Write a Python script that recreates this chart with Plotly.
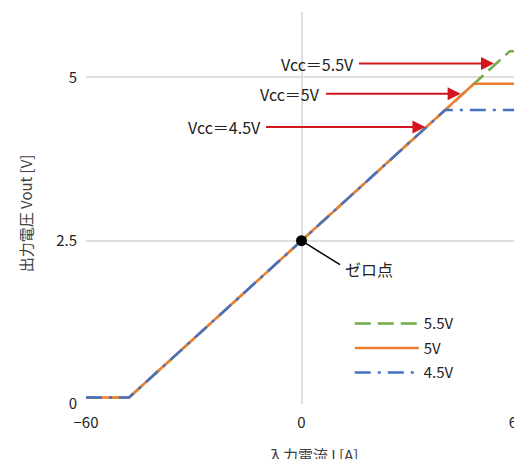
import plotly.graph_objects as go

# Data
current_55 = [-60, -48, 58, 60]
vout_55 = [0.1, 0.1, 5.4, 5.4]
current_5 = [-60, -48, 48, 60]
vout_5 = [0.1, 0.1, 4.9, 4.9]
current_45 = [-60, -48, 40, 60]
vout_45 = [0.1, 0.1, 4.5, 4.5]
series_names = ["5.5V", "5V", "4.5V"]
zero_point = (0, 2.5)
x_ticks = [-60, 0, 60]
y_ticks = [0, 2.5, 5]
y_tick_labels = ["0", "2.5", "5"]

FONT = "Noto Sans CJK JP"
TXT = "#404040"
DARK = "#222222"
RED = "#d3151d"

fig = go.Figure()
fig.add_trace(go.Scatter(x=current_55, y=vout_55, mode="lines", name=series_names[0], legendgroup="a",
                         line=dict(color="#70ad47", width=2.5, dash="16px,7px")))
fig.add_trace(go.Scatter(x=current_5, y=vout_5, mode="lines", name=series_names[1], legendgroup="b",
                         line=dict(color="#ed7d31", width=2.5)))
fig.add_trace(go.Scatter(x=current_45, y=vout_45, mode="lines", name=series_names[2], legendgroup="c",
                         line=dict(color="#4472c4", width=2.5, dash="16px,7px,3px,7px")))
fig.add_trace(go.Scatter(x=[zero_point[0]], y=[zero_point[1]], mode="markers", showlegend=False,
                         marker=dict(color="black", size=11)))

ann = []
# red arrows with labels
arrows = [
    ("Vcc＝5.5V", 15.6, 53.6, 5.21),
    ("Vcc＝5V", 6.4, 44.3, 4.75),
    ("Vcc＝4.5V", -10.3, 34.5, 4.24),
]
for label, tail, head, yv in arrows:
    ann.append(dict(x=head, y=yv, ax=tail, ay=yv, xref="x", yref="y", axref="x", ayref="y",
                    text="", showarrow=True, arrowhead=2, arrowsize=1.3, arrowwidth=2,
                    arrowcolor=RED, standoff=0))
    ann.append(dict(x=tail, y=yv, xref="x", yref="y", text=label, showarrow=False,
                    xanchor="right", yanchor="middle", xshift=-2,
                    font=dict(family=FONT, size=16, color=DARK)))
# zero point leader
ann.append(dict(x=zero_point[0], y=zero_point[1], xref="x", yref="y", text="", showarrow=True,
                ax=40, ay=25, arrowhead=0, arrowwidth=1.5, arrowcolor="black"))
ann.append(dict(x=zero_point[0], y=zero_point[1], xref="x", yref="y", text="ゼロ点", showarrow=False,
                xanchor="left", yanchor="middle", xshift=41, yshift=-28,
                font=dict(family=FONT, size=16, color=DARK)))
# axis titles
ann.append(dict(x=-0.141, y=0.487, xref="paper", yref="paper", text="出力電圧 Vout [V]",
                textangle=-90, showarrow=False, xanchor="center", yanchor="middle",
                font=dict(family=FONT, size=15, color=TXT)))
ann.append(dict(x=0.526, y=-0.128, xref="paper", yref="paper", text="入力電流 I [A]",
                showarrow=False, xanchor="center", yanchor="middle",
                font=dict(family=FONT, size=15, color=TXT)))

# The page body has an 8px default margin, so the figure is sized/offset to compensate.
fig.update_layout(
    width=514, height=451,
    margin=dict(l=78, r=4.5, t=4, b=55, autoexpand=False),
    paper_bgcolor="white", plot_bgcolor="white",
    font=dict(family=FONT, size=15, color=TXT),
    annotations=ann,
    showlegend=True,
    legend=dict(x=0.612, y=0.247, xanchor="left", yanchor="top", bgcolor="rgba(0,0,0,0)",
                font=dict(family=FONT, size=15, color=DARK), itemwidth=64,
                traceorder="grouped", tracegroupgap=2),
    xaxis=dict(range=[-60, 60], tickvals=x_ticks, showgrid=True, gridcolor="#dedede", gridwidth=2,
               zeroline=False, showline=False, ticks="", ticklabelstandoff=8, automargin=False,
               ticklabeloverflow="allow",
               tickfont=dict(family=FONT, size=15, color=DARK)),
    yaxis=dict(range=[0, 6], tickvals=y_ticks, ticktext=y_tick_labels, showgrid=True,
               gridcolor="#dedede", gridwidth=2, zeroline=False, showline=False, ticks="",
               ticklabelstandoff=8, automargin=False, ticklabeloverflow="allow",
               tickfont=dict(family=FONT, size=15, color=DARK)),
)

fig.write_html("out.html")
